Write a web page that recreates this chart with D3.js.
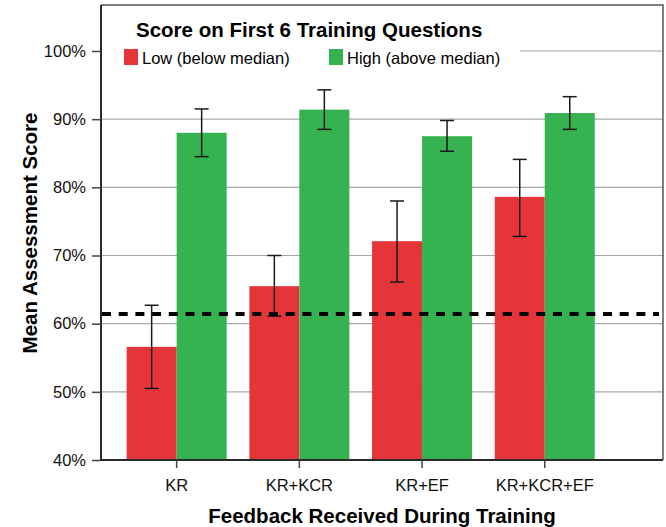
<!DOCTYPE html>
<html>
<head>
<meta charset="utf-8">
<script src="https://cdn.jsdelivr.net/npm/d3@7"></script>
<style>
  body { margin: 0; background: #fff; }
  svg { font-family: "Liberation Sans", Arial, sans-serif; }
</style>
</head>
<body>
<div id="chart"></div>
<script>
// data
const categories = ["KR", "KR+KCR", "KR+EF", "KR+KCR+EF"]
const groups = ["Low (below median)", "High (above median)"]
const lowMeans = [56.6, 65.5, 72.1, 78.6]
const lowErrLo = [50.5, 61.1, 66.1, 72.8]
const lowErrHi = [62.7, 70.0, 78.0, 84.1]
const highMeans = [88.0, 91.4, 87.5, 90.9]
const highErrLo = [84.5, 88.5, 85.3, 88.5]
const highErrHi = [91.5, 94.3, 89.8, 93.3]
const medianLine = 61.4
const yTicks = [40, 50, 60, 70, 80, 90, 100]

const colors = ["#e43538", "#34b350"]

let width = 666, height = 527
let plotLeft = 101, plotRight = 663, plotTop = 5, plotBottom = 460

let svg = d3.select("#chart").append("svg")
    .attr("width", width)
    .attr("height", height)

// y scale: 40% at the bottom, 100% at y=51
let y = d3.scaleLinear()
    .domain([40, 100])
    .range([plotBottom, 51])

// the category centres are not symmetric inside the frame
let x0 = d3.scaleBand()
    .domain(categories)
    .range([115.3, 606.1])
    .paddingInner(0)
    .paddingOuter(0)

// two 50px bars per group
let x1 = d3.scaleBand()
    .domain([0, 1])
    .range([0, x0.bandwidth()])
    .paddingInner(0)
    .paddingOuter(0.227)

// gridlines
svg.append("g")
    .selectAll("line")
    .data(yTicks.filter(d => d > 40))
    .enter().append("line")
    .attr("x1", plotLeft).attr("x2", plotRight)
    .attr("y1", d => y(d)).attr("y2", d => y(d))
    .attr("stroke", "#a8a8a8")
    .attr("stroke-width", 1.2)

// bars
let rows = categories.map((c, i) => [
    { cat: c, g: 0, v: lowMeans[i], lo: lowErrLo[i], hi: lowErrHi[i] },
    { cat: c, g: 1, v: highMeans[i], lo: highErrLo[i], hi: highErrHi[i] }
])

let cat = svg.append("g").selectAll("g")
    .data(rows)
    .enter().append("g")
    .attr("transform", d => "translate(" + x0(d[0].cat) + ",0)")

cat.selectAll("rect")
    .data(d => d)
    .enter().append("rect")
    .attr("x", d => x1(d.g))
    .attr("width", x1.bandwidth())
    .attr("y", d => y(d.v))
    .attr("height", d => plotBottom - y(d.v))
    .attr("fill", d => colors[d.g])

// error bars
let eb = cat.selectAll("g.err")
    .data(d => d)
    .enter().append("g")
    .attr("class", "err")
    .attr("stroke", "#1a1a1a")
    .attr("stroke-width", 1.5)

eb.append("line")
    .attr("x1", d => x1(d.g) + x1.bandwidth() / 2)
    .attr("x2", d => x1(d.g) + x1.bandwidth() / 2)
    .attr("y1", d => y(d.lo))
    .attr("y2", d => y(d.hi))
eb.selectAll("line.cap")
    .data(d => [{ d: d, v: d.lo }, { d: d, v: d.hi }])
    .enter().append("line")
    .attr("class", "cap")
    .attr("x1", e => x1(e.d.g) + x1.bandwidth() / 2 - 7)
    .attr("x2", e => x1(e.d.g) + x1.bandwidth() / 2 + 7)
    .attr("y1", e => y(e.v))
    .attr("y2", e => y(e.v))

// dashed median line
svg.append("line")
    .attr("x1", plotLeft + 1).attr("x2", plotRight - 4)
    .attr("y1", y(medianLine)).attr("y2", y(medianLine))
    .attr("stroke", "#000")
    .attr("stroke-width", 4)
    .attr("stroke-dasharray", "9,7.7")

// frame: top and right lighter
svg.append("path")
    .attr("d", `M${plotLeft},${plotTop}H${plotRight}V${plotBottom}`)
    .attr("fill", "none")
    .attr("stroke", "#555")
    .attr("stroke-width", 1.5)

// y axis
let yAxis = svg.append("g")
    .attr("transform", "translate(" + plotLeft + ",0)")
    .call(d3.axisLeft(y).tickValues(yTicks).tickSize(9).tickPadding(6).tickFormat(d => d + "%"))
yAxis.select(".domain").attr("d", `M0,${plotTop}V${plotBottom}`).attr("stroke", "#2a2a2a").attr("stroke-width", 2)
yAxis.selectAll(".tick line").attr("stroke", "#444").attr("stroke-width", 1.5)
yAxis.selectAll("text").attr("font-size", 16.5).attr("fill", "#111").attr("font-family", "Liberation Sans, Arial, sans-serif")

// x axis
let xAxis = svg.append("g")
    .attr("transform", "translate(0," + plotBottom + ")")
    .call(d3.axisBottom(x0).tickSize(8).tickPadding(11))
xAxis.select(".domain").attr("d", `M${plotLeft},0H${plotRight}`).attr("stroke", "#2a2a2a").attr("stroke-width", 2)
xAxis.selectAll(".tick line").attr("stroke", "#444").attr("stroke-width", 1.5)
xAxis.selectAll("text").attr("font-size", 16.5).attr("fill", "#111").attr("font-family", "Liberation Sans, Arial, sans-serif")

// axis titles
svg.append("text")
    .attr("x", 382).attr("y", 523)
    .attr("text-anchor", "middle")
    .attr("font-size", 20.5).attr("font-weight", "bold")
    .text("Feedback Received During Training")

svg.append("text")
    .attr("transform", "translate(37,233) rotate(-90)")
    .attr("text-anchor", "middle")
    .attr("font-size", 20.5).attr("font-weight", "bold")
    .text("Mean Assessment Score")

// legend with white box over the grid
let legend = svg.append("g")
legend.append("rect")
    .attr("x", plotLeft + 1).attr("y", plotTop + 1)
    .attr("width", 418).attr("height", 68)
    .attr("fill", "#fff")
legend.append("text")
    .attr("x", 136).attr("y", 37)
    .attr("font-size", 20.5).attr("font-weight", "bold")
    .text("Score on First 6 Training Questions")

let legX = [124, 329]
let items = legend.selectAll("g.item")
    .data(groups)
    .enter().append("g")
    .attr("class", "item")
    .attr("transform", (d, i) => "translate(" + legX[i] + ",49)")
items.append("rect")
    .attr("width", 14).attr("height", 16)
    .attr("fill", (d, i) => colors[i])
items.append("text")
    .attr("x", 18).attr("y", 15)
    .attr("font-size", 16.5)
    .text(d => d)
</script>
</body>
</html>
